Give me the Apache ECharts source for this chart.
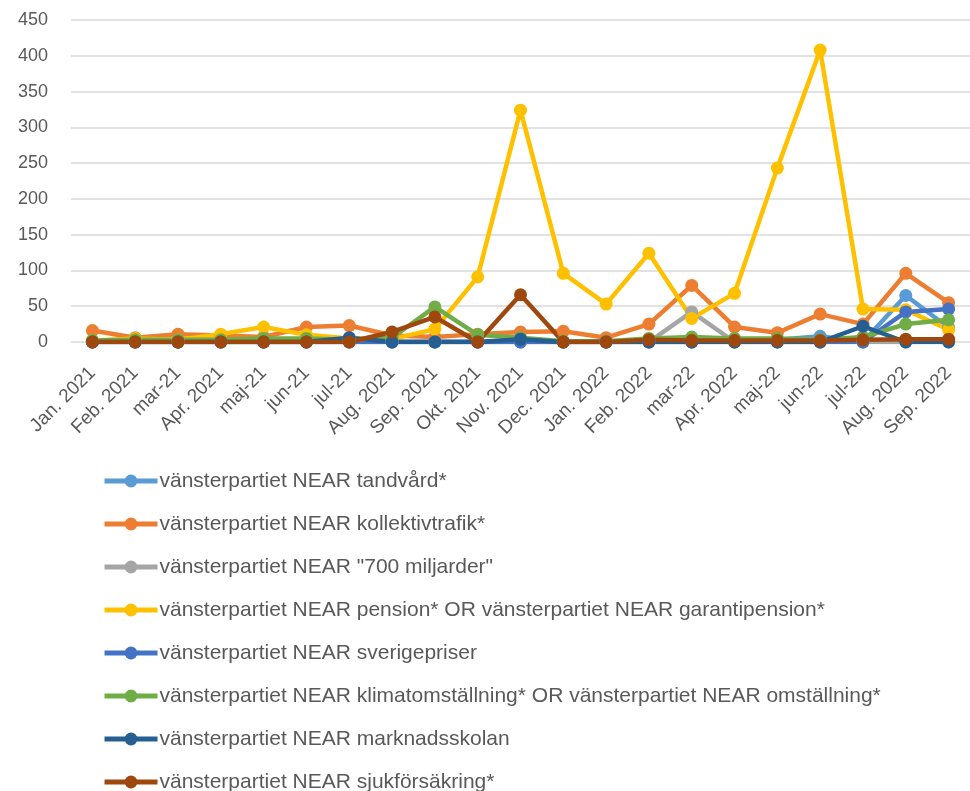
<!DOCTYPE html>
<html>
<head>
<meta charset="utf-8">
<script src="https://cdn.jsdelivr.net/npm/echarts@6/dist/echarts.min.js"></script>
<style>
  html, body { margin: 0; padding: 0; background: #fff; }
  #chart { width: 970px; height: 791px; }
</style>
</head>
<body>
<div id="chart"></div>
<script>
// månader
var months = ['Jan. 2021', 'Feb. 2021', 'mar-21', 'Apr. 2021', 'maj-21', 'jun-21', 'jul-21', 'Aug. 2021',
  'Sep. 2021', 'Okt. 2021', 'Nov. 2021', 'Dec. 2021', 'Jan. 2022', 'Feb. 2022', 'mar-22', 'Apr. 2022',
  'maj-22', 'jun-22', 'jul-22', 'Aug. 2022', 'Sep. 2022'];

var seriesNames = [
  'vänsterpartiet NEAR tandvård*',
  'vänsterpartiet NEAR kollektivtrafik*',
  'vänsterpartiet NEAR "700 miljarder"',
  'vänsterpartiet NEAR pension* OR vänsterpartiet NEAR garantipension*',
  'vänsterpartiet NEAR sverigepriser',
  'vänsterpartiet NEAR klimatomställning* OR vänsterpartiet NEAR omställning*',
  'vänsterpartiet NEAR marknadsskolan',
  'vänsterpartiet NEAR sjukförsäkring*'
];

var tandvard        = [0, 0, 0, 0, 0, 0, 0, 0, 0, 0, 0, 0, 0, 0, 0, 3, 3, 8, 0, 65, 20];
var kollektivtrafik = [16, 6, 11, 9, 7, 21, 23, 9, 7, 11, 14, 15, 6, 25, 79, 21, 13, 39, 25, 96, 55];
var miljarder700    = [0, 0, 0, 0, 0, 0, 0, 0, 0, 0, 0, 0, 0, 0, 42, 0, 0, 0, 0, 0, 0];
var pension         = [2, 5, 3, 11, 21, 10, 5, 4, 18, 91, 324, 96, 53, 124, 33, 68, 243, 408, 46, 45, 17];
var sverigepriser   = [0, 0, 0, 0, 0, 0, 0, 0, 0, 0, 0, 0, 0, 0, 0, 0, 0, 0, 0, 42, 46];
var klimat          = [2, 3, 3, 3, 5, 5, 3, 6, 49, 10, 6, 1, 1, 5, 7, 5, 5, 3, 7, 25, 31];
var marknadsskolan  = [0, 0, 0, 0, 0, 0, 6, 0, 0, 0, 4, 0, 0, 0, 0, 0, 0, 0, 22, 0, 0];
var sjukforsakring  = [0, 0, 0, 0, 0, 0, 0, 14, 35, 0, 66, 0, 0, 3, 2, 2, 2, 2, 3, 4, 4];

var yTicks = { min: 0, max: 450, step: 50 };

var colors = ['#5B9BD5', '#ED7D31', '#A5A5A5', '#FFC000', '#4472C4', '#70AD47', '#255E91', '#9E480E'];
var allData = [tandvard, kollektivtrafik, miljarder700, pension, sverigepriser, klimat, marknadsskolan, sjukforsakring];

var chart = echarts.init(document.getElementById('chart'));

var series = seriesNames.map(function (name, i) {
  return {
    name: name,
    type: 'line',
    data: allData[i],
    symbol: 'circle',
    symbolSize: 13,
    lineStyle: { width: 4.5, color: colors[i] },
    itemStyle: { color: colors[i] },
    emphasis: { disabled: true },
    animation: false
  };
});

chart.setOption({
  color: colors,
  textStyle: { fontFamily: 'Liberation Sans, sans-serif' },
  grid: { left: 71, top: 20, width: 903, height: 322, containLabel: false },
  xAxis: {
    type: 'category',
    data: months,
    boundaryGap: true,
    axisLine: { show: false },
    axisTick: { show: false },
    axisLabel: {
      interval: 0,
      rotate: 45,
      color: '#595959',
      fontSize: 19,
      margin: 28
    }
  },
  yAxis: {
    type: 'value',
    min: yTicks.min,
    max: yTicks.max,
    interval: yTicks.step,
    axisLine: { show: false },
    axisTick: { show: false },
    axisLabel: { color: '#595959', fontSize: 18, margin: 23 },
    splitLine: { lineStyle: { color: '#D9D9D9', width: 1.5 } }
  },
  legend: {
    orient: 'vertical',
    left: 102,
    top: 469,
    height: 400,
    padding: 0,
    itemWidth: 53,
    itemHeight: 16,
    itemGap: 19,
    lineStyle: { width: 5 },
    textStyle: { color: '#595959', fontSize: 21, lineHeight: 24, padding: [0, 0, 0, -3] },
    data: seriesNames
  },
  series: series
});
</script>
</body>
</html>
